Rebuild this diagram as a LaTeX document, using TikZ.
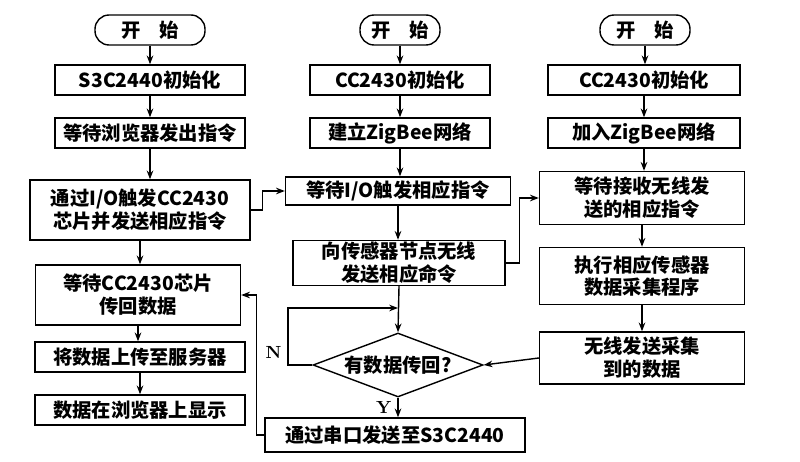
\documentclass[tikz,border=0pt]{standalone}
\usepackage{fontspec}
\newfontfamily\cjk{Noto Sans CJK SC}
\usetikzlibrary{shapes.geometric,arrows.meta}
\tikzstyle{flowbox}=[
        draw, thick, inner sep=1pt, align=center,
        font=\cjk\bfseries\fontsize{11}{13}\selectfont
]
\tikzstyle{startbox}=[
        flowbox, rounded corners=8pt, minimum height=0.6cm
]
\tikzstyle{flow}=[
        thick, -{Stealth[length=5pt]}
]
\begin{document}
\begin{tikzpicture}[x=0.02cm,y=-0.02cm]
                    \useasboundingbox (0,0) rectangle (800,462);

                    % left column
                    \node[startbox,minimum width=2.2cm] (ls) at (150,30) {开\quad 始};
                    \node[flowbox,minimum width=3.8cm,minimum height=0.6cm] (l1) at (150,80) {S3C2440初始化};
                    \node[flowbox,minimum width=3.8cm,minimum height=0.6cm] (l2) at (150,133) {等待浏览器发出指令};
                    \node[flowbox,minimum width=4.4cm,minimum height=1.2cm] (l3) at (140,210) {通过I/O触发CC2430\\芯片并发送相应指令};
                    \node[flowbox,minimum width=4.1cm,minimum height=1.2cm] (l4) at (138,295) {等待CC2430芯片\\传回数据};
                    \node[flowbox,minimum width=4.2cm,minimum height=0.6cm] (l5) at (140,357) {将数据上传至服务器};
                    \node[flowbox,minimum width=4.2cm,minimum height=0.6cm] (l6) at (140,410) {数据在浏览器上显示};

                    % middle column
                    \node[startbox,minimum width=1.6cm] (ms) at (400,30) {开\quad 始};
                    \node[flowbox,minimum width=3.6cm,minimum height=0.6cm] (m1) at (400,80) {CC2430初始化};
                    \node[flowbox,minimum width=3.6cm,minimum height=0.6cm] (m2) at (400,133) {建立ZigBee网络};
                    \node[flowbox,minimum width=4.5cm,minimum height=0.56cm] (m3) at (398,191) {等待I/O触发相应指令};
                    \node[flowbox,minimum width=4.24cm,minimum height=0.84cm] (m4) at (399,263) {向传感器节点无线\\发送相应命令};
                    \node[flowbox,diamond,aspect=2.65,minimum width=3.4cm,minimum height=1.28cm,inner sep=0pt] (md) at (398,365) {有数据传回?};
                    \node[flowbox,minimum width=5.2cm,minimum height=0.68cm] (m5) at (395,435) {通过串口发送至S3C2440};

                    % right column
                    \node[startbox,minimum width=1.8cm] (rs) at (645,30) {开\quad 始};
                    \node[flowbox,minimum width=3.84cm,minimum height=0.6cm] (r1) at (644,80) {CC2430初始化};
                    \node[flowbox,minimum width=3.84cm,minimum height=0.6cm] (r2) at (644,133) {加入ZigBee网络};
                    \node[flowbox,minimum width=4.1cm,minimum height=1.06cm] (r3) at (642,198) {等待接收无线发\\送的相应指令};
                    \node[flowbox,minimum width=4.1cm,minimum height=1.14cm] (r4) at (642,276) {执行相应传感器\\数据采集程序};
                    \node[flowbox,minimum width=4.1cm,minimum height=1.04cm] (r5) at (642,358) {无线发送采集\\到的数据};

                    \foreach \a/\b in {ls/l1,l1/l2,l2/l3,l3/l4,l4/l5,l5/l6,ms/m1,m1/m2,m2/m3,m3/m4,rs/r1,r1/r2,r2/r3,r3/r4,r4/r5} {
                        \draw[flow] (\a.south) -- (\a.south |- \b.north);
                    }

                    \coordinate (loop) at (288,308);
                    \draw[flow] (m4.south) -- (md.north);
                    \draw[flow] (md.west) -- (loop |- md.west) node[above left,font=\bfseries] {N} -- (loop) -- (md.north |- loop);
                    \draw[flow] (md.south) -- node[left,font=\bfseries] {Y} (md.south |- m5.north);
                    \draw[flow] (r5.west) -- (md.east);
                    \draw[flow] (l3.east) -- ++(12,0) |- (m3.west);
                    \draw[flow] (m4.east) -- ++(14,0) |- (r3.west);
                    \draw[flow] (m5.west) -- ++(-8,0) |- (l4.east);
\end{tikzpicture}
\end{document}
